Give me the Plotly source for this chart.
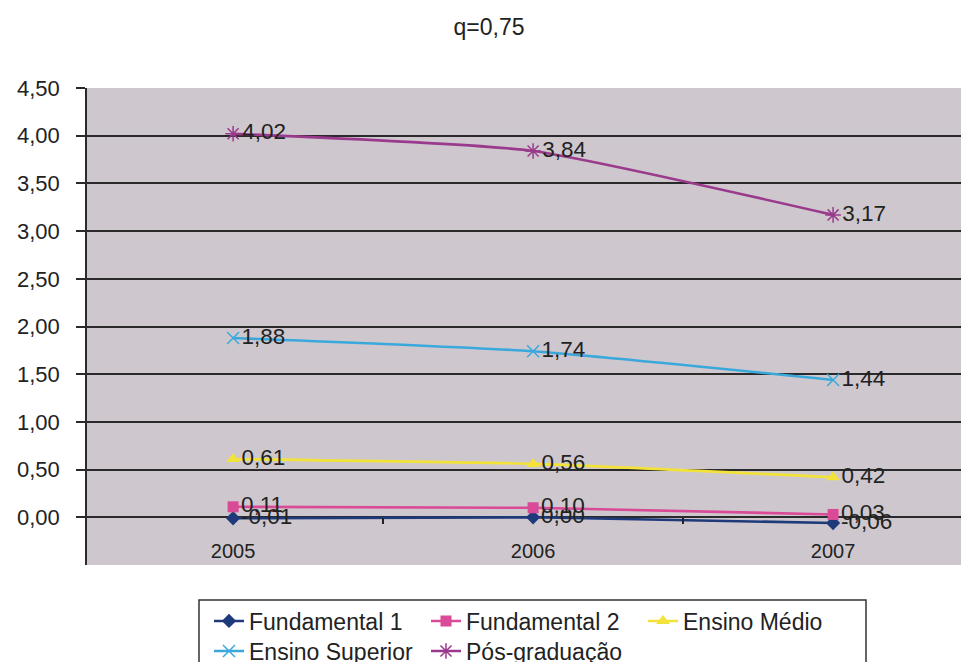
import plotly.graph_objects as go

years = ["2005", "2006", "2007"]
series_names = ["Fundamental 1", "Fundamental 2", "Ensino Médio", "Ensino Superior", "Pós-graduação"]
fundamental1 = [-0.01, 0.00, -0.06]
fundamental2 = [0.11, 0.10, 0.03]
ensino_medio = [0.61, 0.56, 0.42]
ensino_superior = [1.88, 1.74, 1.44]
pos_graduacao = [4.02, 3.84, 3.17]
y_ticks = [-0.5, 0, 0.5, 1, 1.5, 2, 2.5, 3, 3.5, 4, 4.5]

values = [fundamental1, fundamental2, ensino_medio, ensino_superior, pos_graduacao]
colors = ["#1F3A7A", "#D94A97", "#F2E23A", "#3BA8DC", "#9A3A8C"]
symbols = ["diamond", "square", "triangle-up", "x-thin", "asterisk"]
msizes = [11, 11, 12, 12, 13]
legends = ["legend", "legend", "legend", "legend2", "legend2"]

xpos = list(range(len(years)))
FONT = "Liberation Sans, Arial, sans-serif"
TXT = "#222222"
OFF = 8  # page body margin offset

fig = go.Figure()
for name, vals, c, s, ms, lg in zip(series_names, values, colors, symbols, msizes, legends):
    thin = s in ("x-thin", "asterisk")
    fig.add_trace(go.Scatter(
        x=xpos, y=vals, name=name, mode="lines+markers+text",
        line=dict(color=c, width=2.6, shape="spline", smoothing=0.5),
        marker=dict(symbol=s, size=ms, color=c,
                    line=dict(color=c, width=1.5 if thin else 0)),
        text=[f"{v:.2f}".replace(".", ",") for v in vals],
        textposition="middle right",
        textfont=dict(family=FONT, size=22.5, color=TXT),
        legend=lg,
    ))

# invisible trace for the secondary axis that draws category-boundary ticks on y=0
fig.add_trace(go.Scatter(x=[0], y=[0], xaxis="x2", mode="markers",
                         marker=dict(opacity=0), showlegend=False, hoverinfo="skip"))

leg_common = dict(orientation="h", x=(209 - 87) / 882, xanchor="left", yanchor="middle",
                  bgcolor="rgba(0,0,0,0)", font=dict(family=FONT, size=23, color=TXT),
                  itemwidth=30, tracegroupgap=0, entrywidth=172, entrywidthmode="pixels")

fig.update_layout(
    width=969, height=662,
    margin=dict(l=87 - OFF, r=OFF, t=88 - OFF, b=662 - (565 - OFF), autoexpand=False),
    paper_bgcolor="white",
    plot_bgcolor="#CEC8CE",
    separators=",.",
    title=dict(text="q=0,75", x=(489 - 87) / 882, xref="paper", xanchor="center",
               y=1 - (27 - OFF) / 662, yanchor="middle",
               font=dict(family=FONT, size=23, color=TXT)),
    font=dict(family=FONT, size=22, color=TXT),
    xaxis=dict(range=[-0.487, 2.453], tickvals=xpos, ticktext=years, automargin=False,
               ticklabelposition="inside", ticks="", showgrid=False, zeroline=False,
               showline=False, tickfont=dict(family=FONT, size=20, color=TXT)),
    xaxis2=dict(overlaying="x", matches="x", anchor="free", position=0.1,
                tickvals=[0.5, 1.5], ticks="outside", ticklen=6, tickcolor="#222222",
                tickwidth=2, showticklabels=False, showgrid=False, zeroline=False,
                showline=False, automargin=False),
    yaxis=dict(range=[-0.5, 4.5], tickvals=y_ticks, tickformat=".2f", automargin=False,
               showgrid=True, gridcolor="#2a2a2a", gridwidth=1.6,
               zeroline=True, zerolinecolor="#2a2a2a", zerolinewidth=1.6,
               showline=True, linecolor="#2a2a2a", linewidth=1.5,
               ticks="outside", ticklen=9, tickcolor="#2a2a2a", tickwidth=1.5,
               ticklabelstandoff=12,
               tickfont=dict(family=FONT, size=22, color=TXT)),
    legend=dict(leg_common, y=-(621 - 565) / 477),
    legend2=dict(leg_common, y=-(651 - 565) / 477),
    shapes=[dict(type="rect", xref="paper", yref="paper",
                 x0=(199 - 87) / 882, x1=(866 - 87) / 882,
                 y0=-(600 - 565) / 477, y1=-0.25,
                 line=dict(color="#333333", width=1.5), fillcolor="rgba(0,0,0,0)")],
    showlegend=True,
)

fig.write_html("out.html")
